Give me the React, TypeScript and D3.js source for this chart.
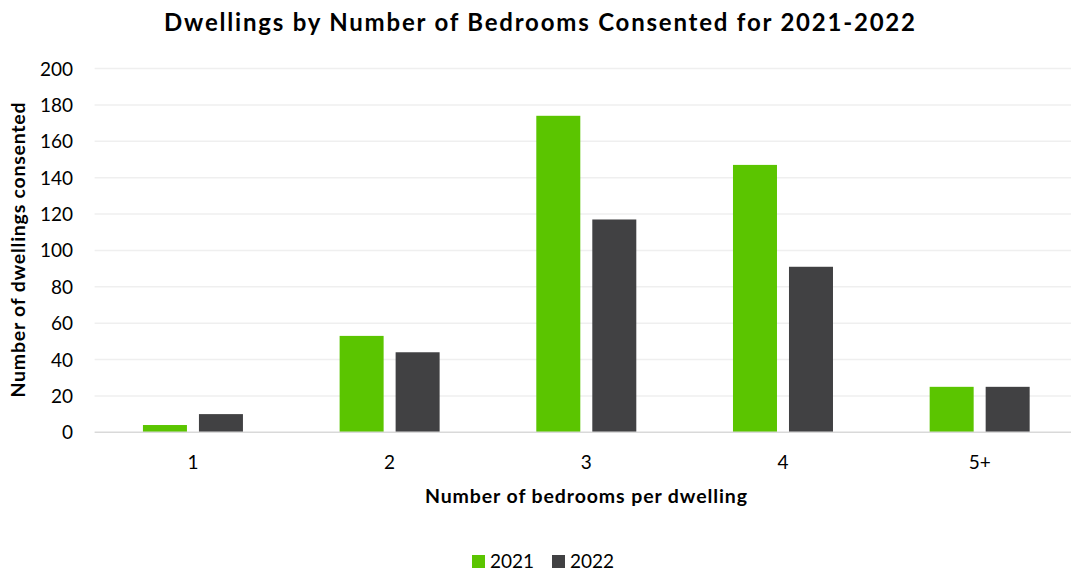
import React from "react";
import * as d3 from "d3";

const categories = ["1", "2", "3", "4", "5+"];
const seriesNames = ["2021", "2022"];
const values2021 = [4, 53, 174, 147, 25];
const values2022 = [10, 44, 117, 91, 25];
const yTicks = [0, 20, 40, 60, 80, 100, 120, 140, 160, 180, 200];
const colors = ["#5BC500", "#414143"];

const W = 1071;
const H = 573;
const FONT = "Lato, 'Open Sans', sans-serif";

export default function App() {
  const left = 94.6;
  const right = 1078;
  const top = 68.5;
  const bottom = 432.3;

  const x = d3.scaleBand<string>().domain(categories).range([left, right]).paddingInner(0).paddingOuter(0);
  const x1 = d3.scaleBand<string>().domain(seriesNames).range([0, 100]).paddingInner(12 / 56).paddingOuter(0);
  const y = d3.scaleLinear().domain([0, 200]).range([bottom, top]);
  const series = [values2021, values2022];
  const groupOffset = (x.bandwidth() - 100) / 2;

  return (
    <svg width={W} height={H} style={{ position: "absolute", left: 0, top: 0, background: "#fff" }} fontFamily={FONT}>
      <text x={539.5} y={31} textAnchor="middle" fontSize={24} fontWeight={700} fill="#000" textLength={751}>
        Dwellings by Number of Bedrooms Consented for 2021-2022
      </text>
      {yTicks.map((t) => (
        <g key={t}>
          {t !== 0 && (
            <line x1={left} x2={W} y1={y(t)} y2={y(t)} stroke="#EFEFEF" strokeWidth={1.5} />
          )}
          <text x={73} y={y(t) + 7} textAnchor="end" fontSize={19} fill="#000">
            {t}
          </text>
        </g>
      ))}
      {categories.map((c, i) => (
        <g key={c}>
          {series.map((vals, s) => (
            <rect
              key={s}
              x={(x(c) as number) + groupOffset + (x1(seriesNames[s]) as number)}
              y={y(vals[i])}
              width={x1.bandwidth()}
              height={bottom - y(vals[i])}
              fill={colors[s]}
            />
          ))}
          <text x={(x(c) as number) + x.bandwidth() / 2} y={469} textAnchor="middle" fontSize={19} fill="#000">
            {c}
          </text>
        </g>
      ))}
      <line x1={left} x2={W} y1={bottom} y2={bottom} stroke="#D9D9D9" strokeWidth={1.5} />
      <text x={586} y={503} textAnchor="middle" fontSize={19.5} fontWeight={700} fill="#000" textLength={322}>
        Number of bedrooms per dwelling
      </text>
      <text
        transform={`translate(25, 250) rotate(-90)`}
        textAnchor="middle"
        fontSize={19.5}
        fontWeight={700}
        fill="#000"
        textLength={295}
      >
        Number of dwellings consented
      </text>
      <g>
        <rect x={472} y={555} width={13} height={13} fill={colors[0]} />
        <text x={490} y={568} fontSize={19} fill="#000">{seriesNames[0]}</text>
        <rect x={552} y={555} width={13} height={13} fill={colors[1]} />
        <text x={570} y={568} fontSize={19} fill="#000">{seriesNames[1]}</text>
      </g>
    </svg>
  );
}
